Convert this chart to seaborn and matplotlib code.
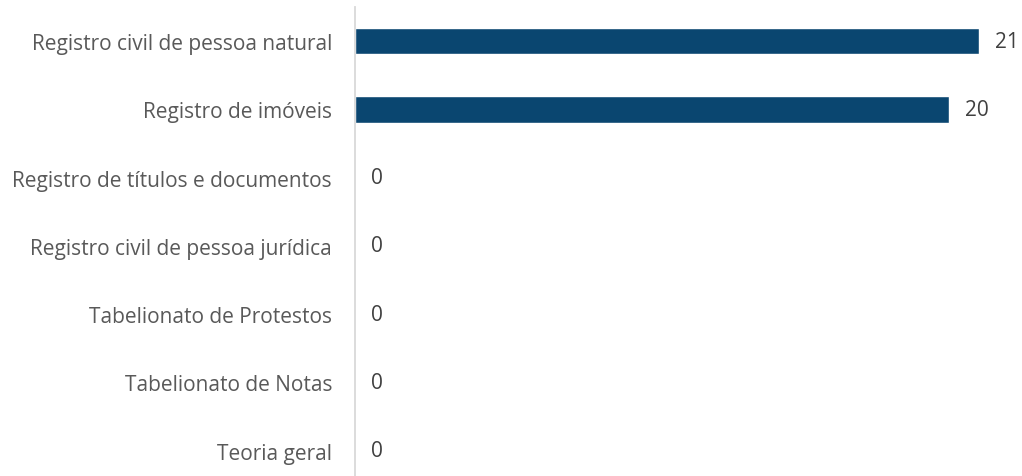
import matplotlib
matplotlib.use("Agg")
import matplotlib.pyplot as plt
import seaborn as sns
from matplotlib.transforms import offset_copy

categories = [
    "Registro civil de pessoa natural",
    "Registro de imóveis",
    "Registro de títulos e documentos",
    "Registro civil de pessoa jurídica",
    "Tabelionato de Protestos",
    "Tabelionato de Notas",
    "Teoria geral",
]
values = [21, 20, 0, 0, 0, 0, 0]

sns.set_theme(style="white")
plt.rcParams["font.family"] = ["Open Sans", "DejaVu Sans"]

W, H = 1022, 477
fig = plt.figure(figsize=(W / 100, H / 100), dpi=100)
ax = fig.add_axes([355 / W, 0, (979 - 355) / W, (477 - 8) / H])

sns.barplot(x=values, y=categories, orient="h", color="#0A4670",
            width=0.39, saturation=1, ax=ax)

ax.set_xlim(0, 21)
ax.set_ylim(6.37, -0.5)
ax.set_xlabel("")
ax.set_ylabel("")
ax.set_xticks([])
for s in ["top", "right", "bottom"]:
    ax.spines[s].set_visible(False)
ax.spines["left"].set_color("#d9d9d9")
ax.spines["left"].set_linewidth(1.3)
ax.tick_params(axis="y", length=0, pad=16.5, labelsize=15, labelcolor="#595959")

# value labels just right of each bar end
trans = offset_copy(ax.transData, fig=fig, x=16, y=0, units="dots")
for i, v in enumerate(values):
    ax.text(v, i, str(v), transform=trans, ha="left", va="center",
            fontsize=15, color="#404040", clip_on=False)

fig.savefig("out.png", dpi=100)
